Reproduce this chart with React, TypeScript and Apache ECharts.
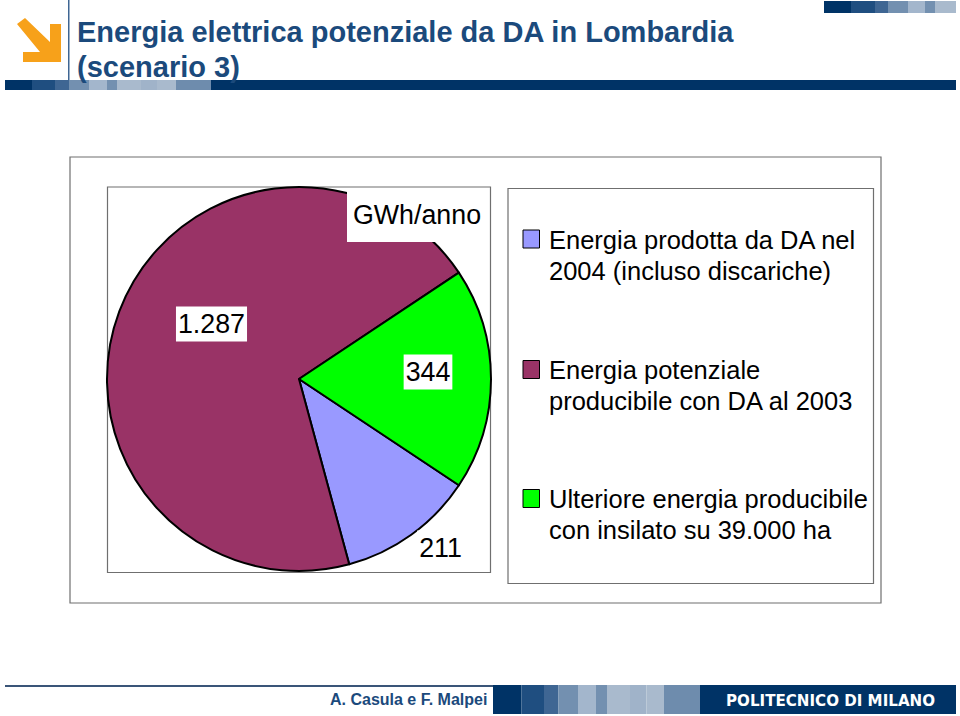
import React, { useEffect, useRef } from "react";
import * as echarts from "echarts";

const FONT = '"Liberation Sans", Arial, Helvetica, sans-serif';
const NAVY = "#1b4a7c";

const titleText = "Energia elettrica potenziale da DA in Lombardia\n(scenario 3)";
const unitText = "GWh/anno";
const footerText = "A. Casula e F. Malpei";
const logoText = "POLITECNICO DI MILANO";

const categories = [
  "Energia prodotta da DA nel\n2004 (incluso discariche)",
  "Energia potenziale\nproducibile con DA al 2003",
  "Ulteriore energia producibile\ncon insilato su 39.000 ha",
];
const values = [211, 1287, 344];
const valueLabels = ["211", "1.287", "344"];
const colors = ["#9999ff", "#993366", "#00ff00"];

const labelCentres = [
  [440.5, 548],
  [211.5, 324],
  [428, 372],
];
const legendTops = [230, 360.5, 489.5];

const bandColors = ["#003366", "#1f4e80", "#3f6693", "#7390b0", "#a3b6cc", "#7390b0", "#a9bacd", "#a0b3c9", "#a9bacd", "#6e8cad"];
const topStops = [824, 851, 875, 888, 908, 925, 935, 956];
const ruleStops = [5, 32, 55, 69, 89, 107, 117, 141, 157, 176, 211];
const footStops = [493, 521.5, 544, 558.5, 578, 596, 607, 630, 646.5, 664, 700];

function bands(stops: number[], y: number, h: number) {
  return stops.slice(0, -1).map((x, i) => ({
    type: "rect",
    z: 1,
    shape: { x, y, width: stops[i + 1] - x, height: h },
    style: { fill: bandColors[i] },
  }));
}

function box(x: number, y: number, width: number, height: number, stroke = "#6f6f6f") {
  return {
    type: "rect",
    z: 0,
    shape: { x, y, width, height },
    style: { fill: "#ffffff", stroke, lineWidth: 1.2 },
  };
}

export default function App() {
  const ref = useRef<HTMLDivElement>(null);
  useEffect(() => {
    const chart = echarts.init(ref.current!, null, { renderer: "svg" });
    chart.setOption({
      animation: false,
      backgroundColor: "#ffffff",
      title: {
        text: titleText,
        left: 77,
        top: 14,
        padding: 0,
        textStyle: { fontFamily: FONT, fontSize: 29, fontWeight: "bold", color: NAVY, lineHeight: 35 },
      },
      graphic: [
        box(70, 157, 811, 446),
        box(107.5, 187, 383, 385.5),
        box(508, 188.5, 365.5, 395),
        // header
        { type: "polygon", z: 1, shape: { points: [[17, 24], [25, 18], [50, 42], [50, 24], [61, 24], [61, 62], [23, 62], [23, 52], [40, 52]] }, style: { fill: "#f7a11a" } },
        { type: "rect", z: 1, shape: { x: 68, y: 0, width: 1.5, height: 80 }, style: { fill: "#3f6693" } },
        ...bands(topStops, 1, 12),
        ...bands(ruleStops, 80, 10),
        { type: "rect", z: 1, shape: { x: 211, y: 80, width: 745, height: 10 }, style: { fill: "#003366" } },
        // footer
        { type: "rect", z: 1, shape: { x: 5, y: 685, width: 488, height: 2 }, style: { fill: "#3a5578" } },
        ...bands(footStops, 685, 29),
        { type: "rect", z: 1, shape: { x: 700, y: 685, width: 256, height: 29 }, style: { fill: "#003366" } },
        { type: "text", z: 3, x: 330, y: 699, style: { text: footerText, font: `bold 16px ${FONT}`, fill: NAVY, verticalAlign: "middle" } },
        { type: "text", z: 3, x: 726, y: 700.5, style: { text: logoText, font: `bold 15.1px "DejaVu Sans"`, fill: "#ffffff", verticalAlign: "middle" } },
        // unit label box
        { type: "rect", z: 5, shape: { x: 347, y: 188, width: 142, height: 54 }, style: { fill: "#ffffff" } },
        { type: "text", z: 6, x: 417, y: 215, style: { text: unitText, font: `26.8px ${FONT}`, fill: "#000000", align: "center", verticalAlign: "middle" } },
        // legend
        ...categories.flatMap((name, i) => [
          { type: "rect", z: 3, shape: { x: 523, y: legendTops[i], width: 16.5, height: 18 }, style: { fill: colors[i], stroke: "#000000", lineWidth: 1 } },
          { type: "text", z: 3, x: 549, y: legendTops[i] - 6, style: { text: name, font: `25.5px ${FONT}`, fill: "#000000", lineHeight: 31 } },
        ]),
      ],
      series: [
        {
          type: "pie",
          z: 2,
          center: [299, 379],
          radius: [0, 192],
          startAngle: -33.6,
          clockwise: true,
          silent: true,
          itemStyle: { borderColor: "#000000", borderWidth: 2 },
          labelLine: { show: false },
          label: {
            show: true,
            position: "inside",
            fontFamily: FONT,
            fontSize: 26.8,
            color: "#000000",
            backgroundColor: "#ffffff",
            padding: [4, 2, 4, 2],
            formatter: (p: any) => valueLabels[p.dataIndex],
          },
          labelLayout: (p: any) => ({
            x: labelCentres[p.dataIndex][0],
            y: labelCentres[p.dataIndex][1],
            align: "center",
            verticalAlign: "middle",
          }),
          data: values.map((value, i) => ({
            value,
            name: categories[i],
            itemStyle: { color: colors[i] },
          })),
        },
      ],
    });
    return () => chart.dispose();
  }, []);
  return <div ref={ref} style={{ position: "absolute", left: 0, top: 0, width: 960, height: 716 }} />;
}
